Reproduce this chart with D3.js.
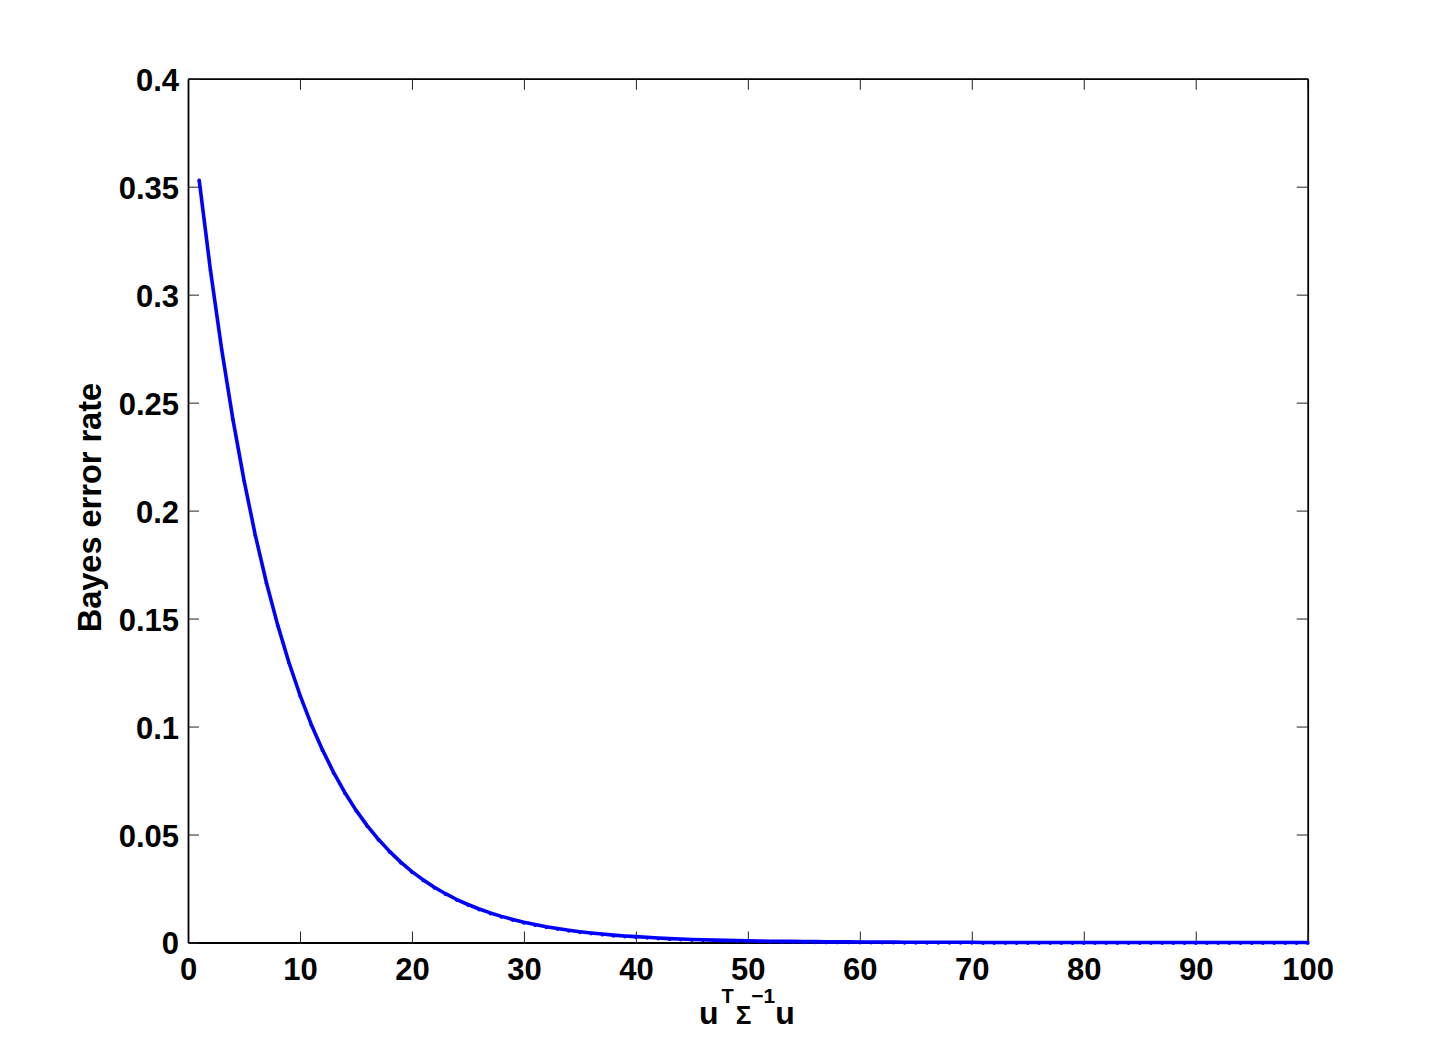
<!DOCTYPE html>
<html>
<head>
<meta charset="utf-8">
<script src="https://cdn.jsdelivr.net/npm/d3@7"></script>
<style>
  html, body { margin: 0; padding: 0; background: #fff; }
  svg text { font-family: "Liberation Sans", Arial, Helvetica, sans-serif; font-weight: bold; fill: #000; }
</style>
</head>
<body>
<div id="chart"></div>
<script>
//Data
var xValues = d3.range(1, 101);
var errorRate = [
  0.3530, 0.3115, 0.2749, 0.2426, 0.2141, 0.1889, 0.1667, 0.1472, 0.1299, 0.1146,
  0.1011, 0.0893, 0.0788, 0.0695, 0.0613, 0.0541, 0.0478, 0.0422, 0.0372, 0.0328,
  0.0290, 0.0256, 0.0226, 0.0199, 0.0176, 0.0155, 0.0137, 0.0121, 0.0107, 0.0094,
  0.0083, 0.0073, 0.0065, 0.0057, 0.0050, 0.0044, 0.0039, 0.0034, 0.0030, 0.0027,
  0.0024, 0.0021, 0.0018, 0.0016, 0.0014, 0.0013, 0.0011, 0.0010, 0.0009, 0.0008,
  0.0007, 0.0006, 0.0005, 0.0005, 0.0004, 0.0004, 0.0003, 0.0003, 0.0003, 0.0002,
  0.0002, 0.0002, 0.0002, 0.0001, 0.0001, 0.0001, 0.0001, 0.0001, 0.0001, 0.0001,
  0, 0, 0, 0, 0, 0, 0, 0, 0, 0,
  0, 0, 0, 0, 0, 0, 0, 0, 0, 0,
  0, 0, 0, 0, 0, 0, 0, 0, 0, 0
];
var xTicks = [0, 10, 20, 30, 40, 50, 60, 70, 80, 90, 100];
var yTicks = [0, 0.05, 0.1, 0.15, 0.2, 0.25, 0.3, 0.35, 0.4];
var yTickLabels = ['0', '0.05', '0.1', '0.15', '0.2', '0.25', '0.3', '0.35', '0.4'];

(function(){
  var width = 1443, height = 1060;
  var mLeft = 188, mRight = 1307.7, mTop = 78.7, mBottom = 942.5;
  var fontSize = 31;

  var svg = d3.select('#chart').append('svg')
    .attr('width', width).attr('height', height)
    .style('display', 'block');
  svg.append('rect').attr('width', width).attr('height', height).attr('fill', '#fff');

  var x = d3.scaleLinear().domain([0, 100]).range([mLeft, mRight]);
  var y = d3.scaleLinear().domain([0, 0.4]).range([mBottom, mTop]);

  //Axes (ticks point inward, like the matlab box)
  var styleAxis = function(g){
    g.select('.domain').attr('stroke', '#000').attr('stroke-width', 1.8);
    g.selectAll('.tick line').attr('stroke', '#222').attr('stroke-width', 1);
    g.selectAll('.tick text').style('font-size', fontSize + 'px').attr('fill', '#000');
  };

  svg.append('g').attr('transform', 'translate(0,' + mTop + ')')
    .call(d3.axisTop(x).tickValues(xTicks).tickSizeInner(-11).tickSizeOuter(0).tickFormat(''))
    .call(styleAxis);
  svg.append('g').attr('transform', 'translate(' + mRight + ',0)')
    .call(d3.axisRight(y).tickValues(yTicks).tickSizeInner(-11).tickSizeOuter(0).tickFormat(''))
    .call(styleAxis);

  svg.append('g').attr('transform', 'translate(0,' + mBottom + ')')
    .call(d3.axisBottom(x).tickValues(xTicks).tickSizeInner(-11).tickSizeOuter(0).tickPadding(15))
    .call(styleAxis);

  var yAxis = svg.append('g').attr('transform', 'translate(' + mLeft + ',0)')
    .call(d3.axisLeft(y).tickValues(yTicks).tickSizeInner(-11).tickSizeOuter(0).tickPadding(9)
      .tickFormat(function(d, i){ return yTickLabels[i]; }))
    .call(styleAxis);
  yAxis.selectAll('.tick text').attr('dy', '0.37em');

  //Curve
  var pts = xValues.map(function(v, i){ return [v, errorRate[i]]; });
  var line = d3.line().x(function(d){ return x(d[0]); }).y(function(d){ return y(d[1]); });
  svg.append('path').datum(pts)
    .attr('d', line)
    .attr('fill', 'none')
    .attr('stroke', '#0000ff')
    .attr('stroke-width', 3.6)
    .attr('stroke-linejoin', 'round')
    .attr('stroke-linecap', 'round');
  svg.append('g').selectAll('circle').data(pts).enter().append('circle')
    .attr('cx', function(d){ return x(d[0]); })
    .attr('cy', function(d){ return y(d[1]) + 0.8; })
    .attr('r', 1.7)
    .attr('fill', '#0000ff');

  //Labels
  var xl = svg.append('text')
    .attr('x', (mLeft + mRight) / 2 - 1)
    .attr('y', 1024)
    .attr('text-anchor', 'middle')
    .style('font-size', '32px');
  xl.append('tspan').text('u');
  xl.append('tspan').attr('dx', 3).attr('dy', -21).style('font-size', '20px').text('T');
  xl.append('tspan').attr('dx', 2).attr('dy', 21).style('font-size', '26px').text('\u03A3');
  xl.append('tspan').attr('dy', -21).style('font-size', '21px').text('\u22121');
  xl.append('tspan').attr('dy', 21).text('u');

  svg.append('text')
    .attr('transform', 'translate(101,' + ((mTop + mBottom) / 2 - 3) + ') rotate(-90)')
    .attr('text-anchor', 'middle')
    .style('font-size', '32.5px')
    .text('Bayes error rate');
})();
</script>
</body>
</html>
